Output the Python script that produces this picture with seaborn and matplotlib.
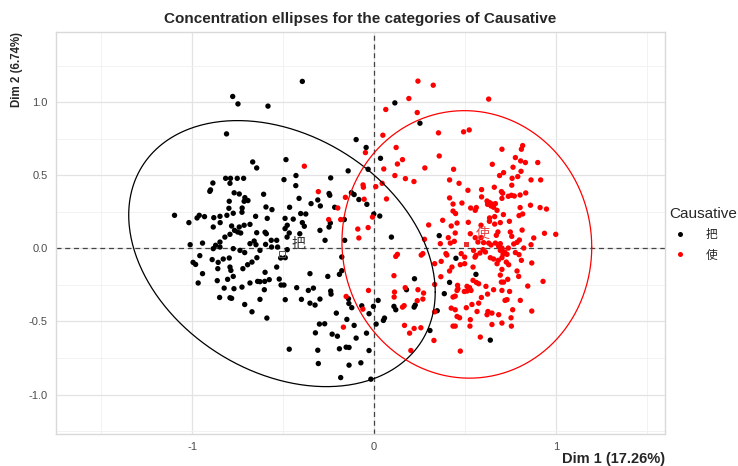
import numpy as np
import pandas as pd
import matplotlib
matplotlib.use("Agg")
import matplotlib.pyplot as plt
from matplotlib.lines import Line2D
import seaborn as sns

# ---------------- data ----------------
categories = ["把", "使"]
colors = ["#000000", "#FF0000"]

ba_x = [-0.778,-0.749,-0.584,-0.812,-0.668,-0.646,-0.485,-0.430,-0.496,-0.431,-0.413,
        -0.817,-0.790,-0.753,-0.718,-0.793,-0.887,-0.904,-0.900,-0.770,-0.742,-0.711,-0.694,-0.715,-0.608,-0.797,-0.799,
        -0.726,-0.727,-0.775,-0.595,-0.562,-0.465,-1.098,-0.962,-0.933,-0.974,-0.848,-0.810,-0.652,-0.588,-0.490,-0.445,-0.882,
        -1.019,-0.885,-0.847,-0.784,-0.742,-0.768,-0.751,-0.734,-0.715,-0.683,-0.646,-0.600,-0.593,-0.478,-0.490,-0.467,-0.479,
        -0.793,-0.821,-0.848,-0.872,-0.885,-0.848,-0.944,-1.012,-0.775,-0.738,-0.712,-0.683,-0.660,-0.650,-0.628,-0.597,-0.566,
        -0.536,-0.564,-0.531,-0.478,-0.514,-0.489,-0.959,-0.996,-0.982,-0.891,-0.858,-0.830,-0.797,-0.860,-0.793,-0.788,-0.775,
        -0.722,-0.696,-0.672,-0.645,-0.944,-0.968,-0.863,-0.806,-0.825,-0.771,-0.727,-0.683,-0.641,-0.628,-0.602,-0.577,-0.600,
        -0.536,-0.522,-0.512,-0.496,-0.604,-0.426,-0.850,-0.793,-0.784,-0.712,-0.628,-0.672,-0.489,-0.590,-0.467,
        -0.395,0.114,0.252,-0.099,-0.044,0.035,-0.033,-0.143,-0.239,-0.248,-0.244,-0.125,-0.110,-0.310,-0.347,-0.296,-0.084,
        -0.040,-0.217,-0.376,-0.002,0.031,-0.164,
        -0.404,-0.395,-0.384,-0.241,-0.298,-0.248,-0.409,-0.162,-0.270,0.095,0.358,-0.178,-0.353,-0.255,-0.191,-0.178,0.222,
        -0.362,-0.334,-0.239,-0.237,0.178,0.220,0.226,0.109,0.119,-0.400,-0.353,-0.325,-0.298,-0.141,-0.139,-0.123,-0.068,
        -0.004,-0.028,0.347,-0.208,-0.150,-0.301,-0.272,-0.110,0.011,0.051,0.057,0.307,-0.323,-0.231,-0.202,-0.099,-0.042,
        -0.310,-0.191,-0.154,-0.138,-0.028,
        -0.307,-0.184,-0.138,-0.073,-0.018,0.639,0.450,0.560,0.415,0.386,0.022]
ba_y = [1.039,0.988,0.973,0.783,0.591,0.550,0.607,0.498,0.470,0.429,0.342,
        0.479,0.479,0.479,0.479,0.445,0.447,0.390,0.400,0.380,0.372,0.347,0.327,0.322,0.370,0.322,0.274,
        0.276,0.247,0.240,0.283,0.265,0.281,0.226,0.226,0.217,0.208,0.219,0.226,0.219,0.205,0.205,0.200,0.210,
        0.176,0.146,0.176,0.153,0.146,0.123,0.112,0.105,0.158,0.164,0.107,0.110,0.100,0.158,0.135,0.105,0.077,
        0.096,0.077,0.043,0.021,-0.002,0.009,0.036,0.025,-0.002,-0.014,-0.029,0.032,0.050,0.025,-0.014,0.027,0.055,
        0.055,0.009,0.009,-0.009,-0.066,-0.064,-0.050,-0.096,-0.110,-0.077,-0.096,-0.073,-0.066,-0.139,-0.128,-0.151,-0.192,
        -0.139,-0.112,-0.094,-0.064,-0.173,-0.237,-0.221,-0.212,-0.272,-0.276,-0.265,-0.237,-0.226,-0.228,-0.226,-0.214,-0.164,
        -0.128,-0.210,-0.251,-0.251,-0.283,-0.269,-0.336,-0.338,-0.342,-0.384,-0.349,-0.434,-0.351,-0.477,-0.690,
        1.142,0.995,0.856,0.744,0.690,0.616,0.541,0.530,0.482,0.375,0.363,0.381,0.368,0.331,0.306,0.290,0.334,
        0.301,0.281,0.235,0.235,0.221,0.197,
        0.238,0.176,0.151,0.173,0.123,0.146,0.100,0.055,0.055,0.077,0.087,-0.059,-0.173,-0.192,-0.178,-0.153,-0.208,
        -0.288,-0.272,-0.292,-0.313,-0.283,-0.402,-0.388,-0.397,-0.420,-0.349,-0.375,-0.388,-0.347,-0.345,-0.377,-0.406,-0.393,
        -0.397,-0.447,-0.427,-0.443,-0.486,-0.518,-0.516,-0.527,-0.518,-0.493,-0.477,-0.562,-0.578,-0.587,-0.601,-0.614,-0.580,
        -0.697,-0.687,-0.676,-0.678,-0.699,
        -0.788,-0.884,-0.799,-0.783,-0.895,-0.628,-0.068,-0.178,-0.233,-0.310,-0.356]

shi_x = [0.241,0.325,0.191,0.064,0.237,0.354,0.358,0.048,-0.048,0.121,0.156,0.128,0.279,0.053,-0.384,0.114,0.172,
         0.219,0.044,0.009,-0.061,-0.059,-0.307,-0.158,-0.055,0.068,-0.200,-0.009,-0.250,-0.184,0.377,
         -0.033,-0.090,-0.084,0.300,0.364,0.277,0.268,0.259,0.128,0.119,0.333,0.369,0.109,0.367,0.333,-0.031,0.112,0.110,
         0.171,0.241,0.272,0.268,0.237,0.156,0.165,-0.154,-0.062,0.333,-0.169,0.167,0.220,0.257,0.195,0.329,0.202,0.474,
         0.630,0.492,0.523,0.703,0.817,0.810,0.777,0.806,0.832,0.900,0.650,0.764,0.437,0.808,0.712,0.690,0.759,0.790,
         0.863,0.916,0.415,0.467,0.757,0.661,0.516,0.591,0.700,0.707,0.834,0.591,0.738,0.755,0.771,0.803,0.703,0.415,
         0.434,0.483,0.621,0.635,0.624,0.648,0.643,0.667,0.657,0.531,0.562,0.556,0.803,0.860,0.913,0.948,0.434,0.448,
         0.676,0.711,0.635,0.663,0.797,0.817,
         0.424,0.456,0.518,0.588,0.634,0.663,0.694,0.744,0.814,0.749,0.681,0.672,0.937,0.999,0.878,0.863,0.799,0.786,
         0.768,0.757,0.823,0.446,0.408,0.529,0.556,0.588,0.571,0.441,0.419,0.602,0.630,0.643,0.667,0.694,0.685,0.703,
         0.694,0.718,0.738,0.731,0.777,0.797,0.547,0.599,0.612,0.582,0.560,0.395,0.400,0.479,0.498,0.555,0.639,0.657,
         0.683,0.703,0.709,0.676,0.727,0.740,0.810,0.867,0.428,0.415,0.474,0.498,0.544,0.703,0.694,0.700,0.712,0.786,
         0.795,0.735,0.544,0.562,0.575,0.459,0.461,0.456,0.511,0.525,0.533,0.511,0.496,0.615,0.657,0.703,0.745,0.845,
         0.929,0.434,0.446,0.590,0.624,0.731,0.720,0.804,0.507,0.538,0.575,0.424,0.446,0.626,0.648,0.621,0.685,0.762,
         0.867,0.456,0.470,0.566,0.753,0.529,0.527,0.648,0.703,0.755,0.434,0.446,0.584]
shi_y = [1.144,1.116,1.025,0.950,0.929,0.790,0.632,0.774,0.655,0.690,0.607,0.577,0.550,0.543,0.562,0.498,0.477,
         0.457,0.445,0.422,0.434,0.418,0.388,0.349,0.336,0.338,0.276,0.214,0.197,0.197,0.192,
         0.142,0.132,0.071,0.160,0.032,0.062,-0.036,-0.046,-0.041,-0.055,-0.105,-0.089,-0.187,-0.194,-0.247,-0.288,-0.299,-0.333,
         -0.269,-0.283,-0.306,-0.347,-0.358,-0.402,-0.392,-0.329,-0.416,-0.434,-0.539,-0.527,-0.548,-0.543,-0.580,-0.630,-0.699,-0.703,
         1.021,0.797,0.810,0.678,0.703,0.678,0.621,0.598,0.587,0.587,0.575,0.555,0.541,0.527,0.518,0.498,0.479,0.491,
         0.468,0.468,0.468,0.445,0.432,0.418,0.397,0.402,0.388,0.377,0.379,0.352,0.356,0.363,0.358,0.365,0.342,0.345,
         0.303,0.310,0.324,0.313,0.301,0.303,0.290,0.306,0.281,0.276,0.279,0.260,0.279,0.295,0.279,0.269,0.255,0.238,
         0.260,0.231,0.208,0.217,0.224,0.235,
         0.153,0.173,0.178,0.158,0.185,0.166,0.176,0.185,0.125,0.112,0.112,0.089,0.103,0.096,0.071,0.025,0.057,0.041,
         0.030,0.082,0.002,0.105,0.073,0.100,0.073,0.073,0.043,0.048,0.036,0.039,0.036,0.023,0.036,0.032,0.014,0.002,
         -0.014,-0.025,0.002,-0.041,-0.029,-0.043,-0.014,-0.009,-0.025,-0.032,-0.048,-0.036,-0.046,-0.036,-0.060,-0.060,-0.064,-0.073,
         -0.082,-0.064,-0.041,-0.105,-0.094,-0.112,-0.082,-0.100,-0.128,-0.155,-0.112,-0.105,-0.128,-0.144,-0.183,-0.231,-0.231,-0.155,
         -0.192,-0.212,-0.219,-0.233,-0.242,-0.253,-0.276,-0.288,-0.260,-0.269,-0.288,-0.292,-0.295,-0.260,-0.283,-0.288,-0.295,-0.258,
         -0.226,-0.333,-0.327,-0.336,-0.313,-0.351,-0.356,-0.356,-0.406,-0.384,-0.375,-0.409,-0.420,-0.432,-0.443,-0.454,-0.454,-0.420,
         -0.429,-0.466,-0.475,-0.432,-0.475,-0.488,-0.532,-0.521,-0.511,-0.532,-0.532,-0.532,-0.607]

# category centres, label positions and concentration-ellipse parameters
centre_x = [-0.507, 0.510]
centre_y = [-0.036, 0.027]
label_x = [-0.417, 0.599]
label_y = [0.027, 0.096]
ell_rx = [0.843, 0.687]
ell_ry = [0.910, 0.915]
ell_r = [-0.29, -0.02]

x_label = "Dim 1 (17.26%)"
y_label = "Dim 2 (6.74%)"
title = "Concentration ellipses for the categories of Causative"
legend_title = "Causative"
x_ticks = [-1, 0, 1]
y_ticks = [-1.0, -0.5, 0.0, 0.5, 1.0]

# ---------------- plot ----------------
sns.set_theme(style="white")
plt.rcParams['font.family'] = ['Liberation Sans', 'Noto Sans CJK SC', 'DejaVu Sans']
plt.rcParams['axes.unicode_minus'] = True

df = pd.DataFrame({
    "x": ba_x + shi_x,
    "y": ba_y + shi_y,
    "Causative": [categories[0]] * len(ba_x) + [categories[1]] * len(shi_x),
})

fig = plt.figure(figsize=(7.38, 4.66), dpi=100)
W, H = 738, 466
ax = fig.add_axes([56 / W, 1 - 434 / H, (665 - 56) / W, (434 - 32) / H])

ax.set_xlim(-1.75, 1.60)
ax.set_ylim(-1.27, 1.48)

# grid
ax.set_xticks(x_ticks)
ax.set_yticks(y_ticks)
ax.set_xticks([-1.5, -0.5, 0.5, 1.5], minor=True)
ax.set_yticks([-1.25, -0.75, -0.25, 0.25, 0.75, 1.25], minor=True)
ax.grid(True, which="major", color="#E3E3E3", linewidth=0.9)
ax.grid(True, which="minor", color="#F0F0F0", linewidth=0.6)
ax.set_axisbelow(True)

ax.axhline(0, color="#444444", linestyle=(0, (4, 3)), linewidth=0.9, zorder=1)
ax.axvline(0, color="#444444", linestyle=(0, (4, 3)), linewidth=0.9, zorder=1)

sns.scatterplot(data=df, x="x", y="y", hue="Causative", hue_order=categories,
                palette=dict(zip(categories, colors)), s=15, linewidth=0,
                legend=False, ax=ax, zorder=3)

t = np.linspace(0, 2 * np.pi, 400)
for i in range(2):
    phi = np.arccos(ell_r[i])
    ex = centre_x[i] + ell_rx[i] * np.cos(t)
    ey = centre_y[i] + ell_ry[i] * np.cos(t - phi)
    ax.plot(ex, ey, color=colors[i], linewidth=0.9, zorder=4)

ax.scatter([centre_x[0]], [centre_y[0]], marker="s", s=18, facecolor="none",
           edgecolor="#555555", linewidth=0.7, zorder=5)
ax.scatter([centre_x[1]], [centre_y[1]], marker="s", s=12, facecolor="#E83030",
           edgecolor="none", zorder=5)
ax.text(label_x[0], label_y[0], categories[0], color="#333333", fontsize=10,
        style="italic", ha="center", va="center", zorder=6)
ax.text(label_x[1], label_y[1], categories[1], color="#E84040", fontsize=10,
        style="italic", ha="center", va="center", zorder=6)

for s in ax.spines.values():
    s.set_color("#D9D9D9")
    s.set_linewidth(1.0)

ax.tick_params(axis="both", which="both", length=0, labelsize=8, labelcolor="#4D4D4D")
ax.tick_params(axis="x", pad=6)
ax.tick_params(axis="y", pad=6)
ax.set_xticklabels(["-1", "0", "1"])
ax.set_yticklabels(["-1.0", "-0.5", "0.0", "0.5", "1.0"])
ax.set_xlabel("")
ax.set_ylabel("")

fig.text(360.5 / W, 1 - 19 / H, title, ha="center", va="center",
         fontsize=11, fontweight="bold")
fig.text(665 / W, 1 - 459 / H, x_label, ha="right", va="center",
         fontsize=10.5, fontweight="bold")
fig.text(17 / W, 1 - 32 / H, y_label, ha="center", va="top", rotation=90,
         fontsize=8.3, fontweight="bold")

handles = [Line2D([0], [0], marker="o", color="none", markerfacecolor=c,
                  markeredgewidth=0, markersize=3.6) for c in colors]
leg = fig.legend(handles, categories, title=legend_title, loc="upper left",
                 bbox_to_anchor=(669 / W, 1 - 207 / H), frameon=False,
                 fontsize=8.5, title_fontsize=11, handlelength=1.9,
                 handletextpad=1.2, labelspacing=0.7, borderpad=0, borderaxespad=0)
leg._legend_box.align = "left"

fig.savefig("out.png", dpi=100)
